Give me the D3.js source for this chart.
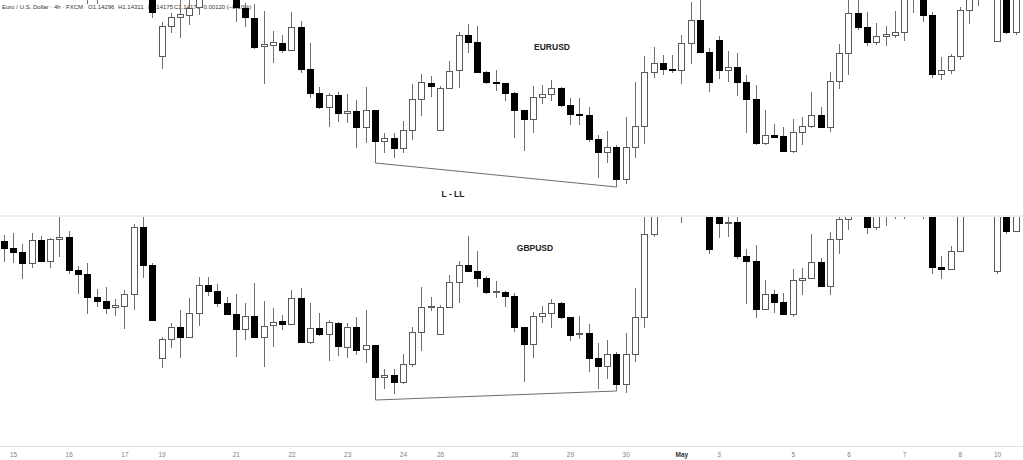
<!DOCTYPE html>
<html>
<head>
<meta charset="utf-8">
<script src="https://d3js.org/d3.v7.min.js"></script>
<style>
  body { margin: 0; background: #fff; }
  svg { display: block; }
</style>
</head>
<body>
<div id="chart"></div>
<script>
// 4h bars; bar 0 is the first bar of the 15th, bars run from -1 to 108
var firstBar = -1;

// EURUSD (FXCM, 4h)
var eurOpen = [1.1070,1.1062,1.1058,1.1048,1.1070,1.1050,1.1071,1.1074,1.1040,1.1036,
  1.1012,1.1010,1.1004,1.1006,1.1016,1.1070,1.1040,1.0944,1.0974,1.0983,
  1.0985,1.0993,1.1010,1.1003,1.1005,1.1018,1.0992,1.0982,1.0954,1.0955,
  1.0957,1.0950,1.0973,1.0931,1.0907,1.0893,1.0905,1.0887,1.0889,1.0873,
  1.0890,1.0859,1.0862,1.0852,1.0870,1.0901,1.0917,1.0870,1.0912,1.0930,
  1.0965,1.0958,1.0928,1.0918,1.0917,1.0907,1.0890,1.0881,1.0903,1.0906,
  1.0912,1.0895,1.0886,1.0885,1.0861,1.0848,1.0853,1.0821,1.0853,1.0874,
  1.0928,1.0937,1.0931,1.0930,1.0957,1.0980,1.0948,1.0960,1.0930,1.0933,
  1.0918,1.0901,1.0857,1.0865,1.0864,1.0849,1.0868,1.0874,1.0885,1.0873,
  1.0919,1.0947,1.0987,1.0973,1.0958,1.0964,1.0965,1.0968,1.1005,1.1015,
  1.0985,1.0926,1.0930,1.0944,1.0990,1.1012,1.1025,1.0959,1.1008,1.0968];
var eurHigh = [1.1075,1.1076,1.1066,1.1077,1.1074,1.1073,1.1095,1.1080,1.1044,1.1046,
  1.1020,1.1022,1.1012,1.1020,1.1074,1.1090,1.1045,1.0978,1.0987,1.1005,
  1.1003,1.1015,1.1020,1.1025,1.1026,1.1022,1.0997,1.0996,1.0989,1.0969,
  1.0965,1.0988,1.0979,1.0957,1.0913,1.0907,1.0908,1.0906,1.0900,1.0913,
  1.0890,1.0867,1.0867,1.0879,1.0916,1.0926,1.0924,1.0914,1.0939,1.0968,
  1.0976,1.0974,1.0929,1.0930,1.0917,1.0908,1.0890,1.0914,1.0915,1.0920,
  1.0913,1.0902,1.0902,1.0893,1.0865,1.0869,1.0855,1.0883,1.0918,1.0944,
  1.0953,1.0945,1.0945,1.0965,1.0998,1.1005,1.0952,1.0964,1.0949,1.0947,
  1.0925,1.0915,1.0890,1.0876,1.0873,1.0881,1.0883,1.0908,1.0893,1.0928,
  1.0956,1.1005,1.1003,1.0988,1.0977,1.0974,1.0989,1.1020,1.1025,1.1020,
  1.0988,1.0943,1.0946,1.0993,1.1020,1.1030,1.1030,1.1015,1.1012,1.1010];
var eurLow = [1.1055,1.1050,1.1035,1.1045,1.1046,1.1044,1.1060,1.1037,1.1020,1.0997,
  1.0997,1.1002,1.1002,1.1001,1.1010,1.1030,1.0983,1.0932,1.0968,1.0963,
  1.0976,1.0986,1.1001,1.1001,1.1001,1.0979,1.0974,1.0952,1.0917,1.0938,
  1.0948,1.0950,1.0928,1.0903,1.0892,1.0874,1.0879,1.0878,1.0853,1.0858,
  1.0855,1.0848,1.0843,1.0848,1.0861,1.0885,1.0904,1.0870,1.0912,1.0913,
  1.0948,1.0928,1.0917,1.0910,1.0900,1.0863,1.0850,1.0868,1.0897,1.0900,
  1.0894,1.0876,1.0876,1.0859,1.0823,1.0838,1.0819,1.0817,1.0843,1.0857,
  1.0923,1.0926,1.0928,1.0917,1.0937,1.0948,1.0909,1.0922,1.0919,1.0905,
  1.0868,1.0856,1.0856,1.0863,1.0849,1.0848,1.0856,1.0873,1.0873,1.0869,
  1.0912,1.0926,1.0971,1.0955,1.0956,1.0955,1.0963,1.0960,1.0988,1.0979,
  1.0923,1.0921,1.0927,1.0941,1.0977,1.0995,1.1002,1.0959,1.0967,1.0966];
var eurClose = [1.1063,1.1059,1.1048,1.1070,1.1050,1.1071,1.1074,1.1040,1.1036,1.1012,
  1.1008,1.1006,1.1007,1.1016,1.1070,1.1040,1.0988,1.0974,1.0983,1.0986,
  1.0992,1.1010,1.1005,1.1015,1.1020,1.0993,1.0983,1.0953,1.0956,1.0958,
  1.0950,1.0973,1.0931,1.0907,1.0893,1.0905,1.0887,1.0889,1.0873,1.0890,
  1.0859,1.0862,1.0852,1.0870,1.0901,1.0918,1.0914,1.0912,1.0929,1.0965,
  1.0958,1.0928,1.0918,1.0917,1.0907,1.0890,1.0881,1.0903,1.0906,1.0912,
  1.0895,1.0886,1.0885,1.0861,1.0848,1.0853,1.0821,1.0853,1.0874,1.0928,
  1.0937,1.0931,1.0930,1.0957,1.0980,1.0948,1.0918,1.0930,1.0933,1.0918,
  1.0901,1.0857,1.0865,1.0863,1.0849,1.0868,1.0874,1.0885,1.0873,1.0919,
  1.0947,1.0987,1.0973,1.0958,1.0964,1.0966,1.0968,1.1010,1.1020,1.0985,
  1.0926,1.0930,1.0944,1.0990,1.1015,1.1025,1.1010,1.1010,1.0968,1.1005];

// GBPUSD (4h)
var gbpOpen = [1.2559,1.2552,1.2548,1.2537,1.2560,1.2539,1.2561,1.2563,1.2530,1.2526,
  1.2503,1.2499,1.2493,1.2494,1.2506,1.2573,1.2535,1.2442,1.2461,1.2473,
  1.2463,1.2487,1.2515,1.2509,1.2497,1.2486,1.2471,1.2484,1.2463,1.2475,
  1.2479,1.2476,1.2502,1.2458,1.2472,1.2466,1.2477,1.2453,1.2473,1.2451,
  1.2455,1.2423,1.2425,1.2418,1.2436,1.2468,1.2493,1.2466,1.2493,1.2518,
  1.2535,1.2529,1.2522,1.2508,1.2508,1.2504,1.2473,1.2456,1.2484,1.2487,
  1.2497,1.2483,1.2466,1.2467,1.2442,1.2434,1.2446,1.2416,1.2446,1.2483,
  1.2566,1.2610,1.2600,1.2599,1.2620,1.2640,1.2610,1.2600,1.2577,1.2578,
  1.2544,1.2539,1.2491,1.2506,1.2498,1.2486,1.2520,1.2522,1.2538,1.2514,
  1.2561,1.2581,1.2605,1.2595,1.2573,1.2590,1.2595,1.2600,1.2615,1.2630,
  1.2610,1.2533,1.2531,1.2549,1.2600,1.2620,1.2610,1.2529,1.2600,1.2569];
var gbpHigh = [1.2565,1.2567,1.2556,1.2567,1.2564,1.2562,1.2586,1.2569,1.2534,1.2537,
  1.2511,1.2513,1.2501,1.2510,1.2576,1.2590,1.2537,1.2463,1.2477,1.2490,
  1.2502,1.2523,1.2523,1.2516,1.2503,1.2506,1.2497,1.2517,1.2499,1.2492,
  1.2485,1.2510,1.2512,1.2497,1.2487,1.2480,1.2478,1.2477,1.2483,1.2490,
  1.2455,1.2431,1.2431,1.2446,1.2473,1.2513,1.2503,1.2495,1.2525,1.2539,
  1.2564,1.2549,1.2524,1.2519,1.2509,1.2507,1.2473,1.2488,1.2494,1.2501,
  1.2498,1.2483,1.2484,1.2476,1.2457,1.2460,1.2448,1.2467,1.2512,1.2590,
  1.2620,1.2620,1.2615,1.2630,1.2650,1.2650,1.2615,1.2605,1.2586,1.2585,
  1.2551,1.2555,1.2520,1.2510,1.2507,1.2531,1.2532,1.2566,1.2542,1.2568,
  1.2586,1.2615,1.2615,1.2600,1.2595,1.2605,1.2610,1.2625,1.2640,1.2635,
  1.2615,1.2544,1.2554,1.2605,1.2630,1.2630,1.2620,1.2605,1.2605,1.2600];
var gbpLow = [1.2539,1.2538,1.2522,1.2533,1.2539,1.2533,1.2544,1.2527,1.2507,1.2487,
  1.2494,1.2487,1.2485,1.2472,1.2491,1.2523,1.2480,1.2433,1.2453,1.2443,
  1.2463,1.2475,1.2505,1.2494,1.2486,1.2444,1.2461,1.2463,1.2434,1.2454,
  1.2471,1.2476,1.2458,1.2457,1.2465,1.2440,1.2445,1.2443,1.2446,1.2438,
  1.2422,1.2412,1.2407,1.2417,1.2434,1.2450,1.2490,1.2466,1.2493,1.2498,
  1.2529,1.2514,1.2507,1.2503,1.2494,1.2469,1.2419,1.2443,1.2478,1.2473,
  1.2482,1.2460,1.2462,1.2429,1.2412,1.2422,1.2413,1.2408,1.2439,1.2473,
  1.2564,1.2590,1.2588,1.2578,1.2595,1.2588,1.2547,1.2563,1.2564,1.2542,
  1.2497,1.2483,1.2491,1.2488,1.2486,1.2484,1.2506,1.2522,1.2514,1.2506,
  1.2547,1.2571,1.2588,1.2567,1.2571,1.2575,1.2582,1.2582,1.2588,1.2582,
  1.2527,1.2522,1.2531,1.2549,1.2588,1.2590,1.2588,1.2527,1.2567,1.2569];
var gbpClose = [1.2552,1.2548,1.2537,1.2560,1.2539,1.2561,1.2563,1.2530,1.2526,1.2503,
  1.2499,1.2492,1.2495,1.2506,1.2573,1.2535,1.2480,1.2461,1.2473,1.2463,
  1.2487,1.2515,1.2509,1.2497,1.2486,1.2471,1.2484,1.2463,1.2474,1.2478,
  1.2476,1.2502,1.2458,1.2472,1.2466,1.2478,1.2454,1.2473,1.2450,1.2455,
  1.2423,1.2425,1.2418,1.2436,1.2468,1.2493,1.2494,1.2493,1.2518,1.2535,
  1.2529,1.2522,1.2508,1.2509,1.2504,1.2473,1.2456,1.2484,1.2487,1.2497,
  1.2483,1.2465,1.2467,1.2442,1.2434,1.2446,1.2416,1.2446,1.2483,1.2566,
  1.2610,1.2600,1.2599,1.2620,1.2640,1.2610,1.2551,1.2577,1.2578,1.2544,
  1.2539,1.2491,1.2506,1.2498,1.2486,1.2520,1.2522,1.2538,1.2514,1.2561,
  1.2581,1.2605,1.2595,1.2573,1.2590,1.2595,1.2600,1.2620,1.2630,1.2610,
  1.2533,1.2531,1.2549,1.2600,1.2620,1.2610,1.2600,1.2600,1.2569,1.2595];

// "L - LL" brackets drawn under the two lows
var bracketBars = [39, 39, 65, 65];
var eurBracket = [1.0855, 1.0837, 1.0813, 1.0819];
var gbpBracket = [1.2422, 1.2400, 1.2409, 1.2413];

// time axis
var tickBars = [0, 6, 12, 16, 24, 30, 36, 42, 46, 54, 60, 66, 72, 76, 84, 90, 96, 102, 106];
var tickLabels = ["15","16","17","19","21","22","23","24","26","28","29","30","May","3","5","6","7","8","10"];

var width = 1024, height = 460;
var svg = d3.select("#chart").append("svg")
  .attr("width", width)
  .attr("height", height)
  .style("font-family", "'Liberation Sans', Arial, sans-serif");

var x = d3.scaleLinear().domain([0, 106]).range([13, 997]);
var yEur = d3.scaleLinear().domain([1.0785, 1.1000]).range([215, 0]);
var yGbp = d3.scaleLinear().domain([1.2354, 1.2584]).range([446, 216]);

// header line (candles are painted over it)
var header = svg.append("text")
  .attr("y", 9)
  .attr("fill", "#333")
  .attr("font-size", "6px");
[["Euro / U.S. Dollar · 4h · FXCM", 2], ["O1.14296", 88], ["H1.14311", 118],
 ["L1.14175", 148], ["C1.14176", 174], ["\u22120.00120 (\u22120.10%)", 200]].forEach(function(p) {
  header.append("tspan").attr("x", p[1]).text(p[0]);
});

// panel separator, time axis border, right border
svg.append("rect").attr("x", 0).attr("y", 215).attr("width", width).attr("height", 2).attr("fill", "#eeeeee");
svg.append("line").attr("x1", 0).attr("x2", width).attr("y1", 446.5).attr("y2", 446.5)
  .attr("stroke", "#e0e0e0");
svg.append("line").attr("x1", 1023.5).attr("x2", 1023.5).attr("y1", 0).attr("y2", height)
  .attr("stroke", "#d9d9d9");

function drawPanel(name, yScale, top, bottom, open, high, low, close, bracket) {
  svg.append("clipPath").attr("id", "clip-" + name)
    .append("rect").attr("x", 0).attr("y", top).attr("width", 1022).attr("height", bottom - top);

  var g = svg.append("g").attr("clip-path", "url(#clip-" + name + ")");

  var bars = open.map(function(o, k) {
    return { i: firstBar + k, o: o, h: high[k], l: low[k], c: close[k] };
  });

  var candle = g.selectAll("g.candle").data(bars).enter().append("g").attr("class", "candle");

  candle.append("line")
    .attr("x1", function(d) { return Math.round(x(d.i)) + 0.5; })
    .attr("x2", function(d) { return Math.round(x(d.i)) + 0.5; })
    .attr("y1", function(d) { return Math.round(yScale(d.h)); })
    .attr("y2", function(d) { return Math.round(yScale(d.l)) + 1; })
    .attr("stroke", "#707070")
    .attr("stroke-width", 1);

  candle.append("rect")
    .attr("x", function(d) { return Math.round(x(d.i)) - 2.5; })
    .attr("width", 6)
    .attr("y", function(d) { return Math.round(yScale(Math.max(d.o, d.c))) + 0.5; })
    .attr("height", function(d) {
      return Math.max(1, Math.round(yScale(Math.min(d.o, d.c))) - Math.round(yScale(Math.max(d.o, d.c))));
    })
    .attr("fill", function(d) { return d.c < d.o ? "#000" : "#fff"; })
    .attr("stroke", function(d) { return d.c < d.o ? "#000" : "#5a5a5a"; })
    .attr("stroke-width", 1);

  g.append("path")
    .datum(bracketBars.map(function(b, k) { return [b, bracket[k]]; }))
    .attr("fill", "none")
    .attr("stroke", "#6e6e6e")
    .attr("stroke-width", 1)
    .attr("d", d3.line()
      .x(function(d) { return Math.round(x(d[0])) + 0.5; })
      .y(function(d) { return yScale(d[1]); }));
}

drawPanel("eur", yEur, 0, 215, eurOpen, eurHigh, eurLow, eurClose, eurBracket);
drawPanel("gbp", yGbp, 217, 446, gbpOpen, gbpHigh, gbpLow, gbpClose, gbpBracket);

// annotations
var notes = [["EURUSD", 552, 50], ["L - LL", 453, 196.5], ["GBPUSD", 535, 251]];
svg.selectAll("text.note").data(notes).enter().append("text")
  .attr("class", "note")
  .attr("x", function(d) { return d[1]; })
  .attr("y", function(d) { return d[2]; })
  .attr("text-anchor", "middle")
  .attr("font-size", "8.5px")
  .attr("font-weight", "bold")
  .attr("fill", "#222")
  .text(function(d) { return d[0]; });

// time axis
var axis = svg.append("g")
  .attr("transform", "translate(0,447)")
  .call(d3.axisBottom(x)
    .tickValues(tickBars)
    .tickSize(0)
    .tickPadding(5)
    .tickFormat(function(d, k) { return tickLabels[k]; }));
axis.select(".domain").remove();
axis.selectAll("text")
  .attr("font-family", "'Liberation Sans', Arial, sans-serif")
  .attr("font-size", "6.5px")
  .attr("fill", function(d, k) { return tickLabels[k] === "May" ? "#333" : "#808080"; })
  .attr("font-weight", function(d, k) { return tickLabels[k] === "May" ? "bold" : "normal"; });
</script>
</body>
</html>
